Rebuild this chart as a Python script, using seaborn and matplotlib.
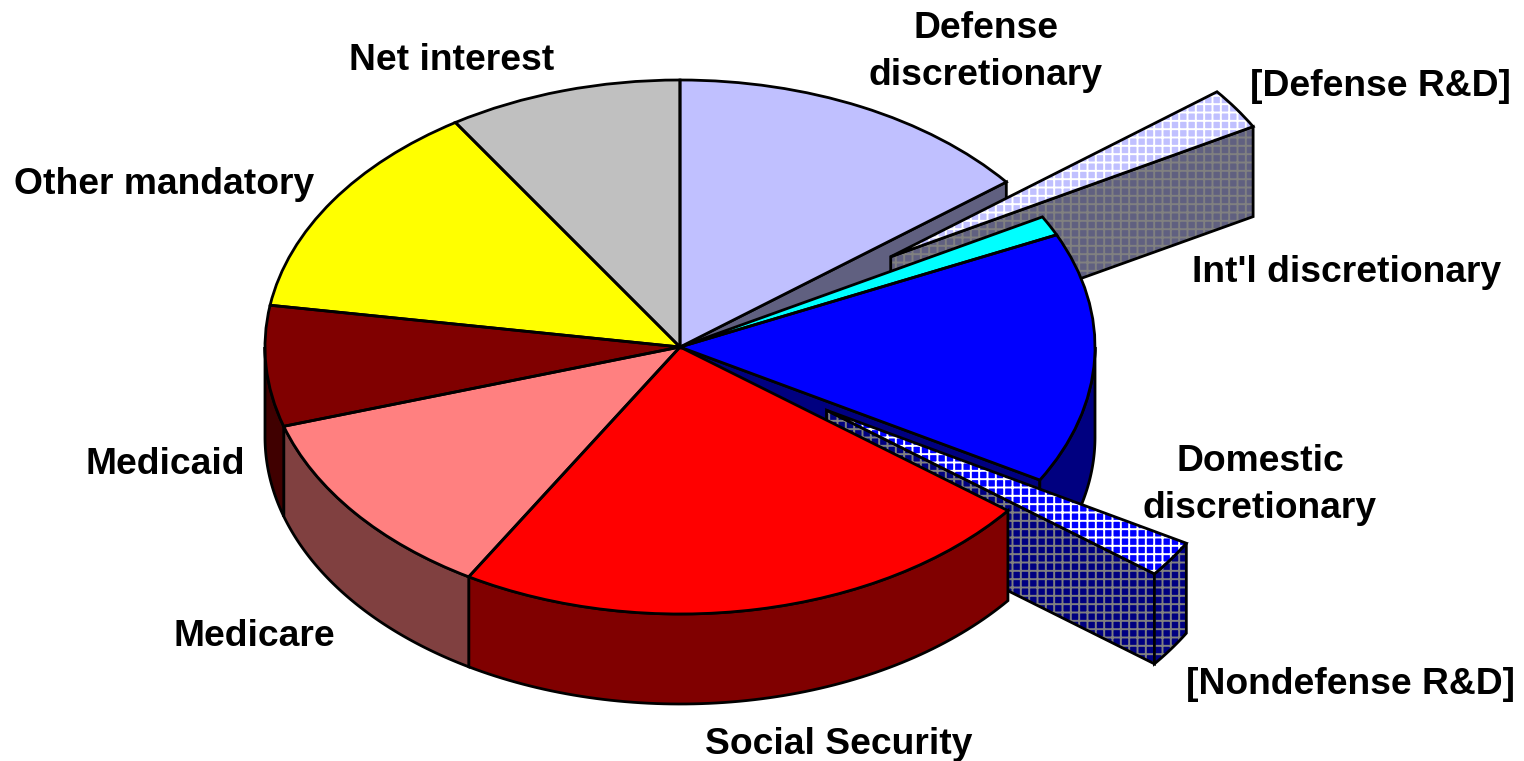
import numpy as np
import matplotlib
matplotlib.use('Agg')
import matplotlib.pyplot as plt
import seaborn as sns

# share of the budget, percent
labels = ['Defense discretionary', '[Defense R&D]', "Int'l discretionary", 'Domestic discretionary',
          '[Nondefense R&D]', 'Social Security', 'Medicare', 'Medicaid', 'Other mandatory', 'Net interest']
values = [14.4, 2.5, 1.2, 15.2, 2.2, 23.0, 11.7, 7.3, 13.4, 9.1]
explode = [0, 0.61, 0, 0, 0.425, 0, 0, 0, 0, 0]
top_colors = ['#C0C0FF', '#C0C0FF', '#00FFFF', '#0000FF', '#0000FF', '#FF0000', '#FF8080', '#800000', '#FFFF00', '#C0C0C0']
side_colors = ['#606080', '#606080', '#008080', '#000080', '#000080', '#800000', '#804040', '#400000', '#808000', '#606060']

sns.set_theme(style='white')
plt.rcParams['font.family'] = ['Liberation Sans', 'DejaVu Sans']
plt.rcParams['hatch.linewidth'] = 1.4

DPI = 100
W, H = 1524, 761
CX, CY, RX, RY = 680, 347, 415, 267
DEPTH = 90 / RY
LW = 2.0

fig = plt.figure(figsize=(W / DPI, H / DPI), dpi=DPI)
ax = fig.add_axes([0, 0, 1, 1])

palette = sns.color_palette(top_colors)

# top faces, fill first and then the outline on its own so hatches can stay white
fills, _ = ax.pie(values, explode=explode, colors=palette, startangle=90, counterclock=False,
                  radius=1, wedgeprops=dict(linewidth=0))
lines, _ = ax.pie(values, explode=explode, startangle=90, counterclock=False, radius=1,
                  wedgeprops=dict(fill=False, edgecolor='black', linewidth=LW))

ax.set_aspect('auto')
ax.set_xlim(-CX / RX, (W - CX) / RX)
ax.set_ylim((CY - H) / RY, CY / RY)
ax.axis('off')

# angle bounds, clockwise from the top of the pie
edges = np.cumsum([0] + values) / sum(values) * 2 * np.pi
mids = (edges[:-1] + edges[1:]) / 2


def wall(x, y, color, z, hatched=False):
    # x, y is the top edge, the wall hangs DEPTH below it
    xs = np.concatenate([x, x[::-1]])
    ys = np.concatenate([y, y[::-1] - DEPTH])
    if hatched:
        ax.fill(xs, ys, facecolor=color, edgecolor='#808080', hatch='++', linewidth=0, zorder=z)
    else:
        ax.fill(xs, ys, facecolor=color, linewidth=0, zorder=z)
    ax.fill(xs, ys, fill=False, edgecolor='black', linewidth=LW, zorder=z)


def radial_wall(i, t, z):
    ox = explode[i] * np.sin(mids[i])
    oy = explode[i] * np.cos(mids[i])
    wall(np.array([ox, ox + np.sin(t)]), np.array([oy, oy + np.cos(t)]), side_colors[i], z, explode[i] > 0)


def outer_wall(i, z):
    t0 = max(edges[i], np.pi / 2)
    t1 = min(edges[i + 1], 3 * np.pi / 2)
    if t1 <= t0:
        return
    t = np.linspace(t0, t1, 80)
    ox = explode[i] * np.sin(mids[i])
    oy = explode[i] * np.cos(mids[i])
    wall(ox + np.sin(t), oy + np.cos(t), side_colors[i], z, explode[i] > 0)


# painter's order, back to front
radial_wall(0, edges[1], 1)
radial_wall(1, edges[2], 2)
radial_wall(3, edges[4], 4)
outer_wall(3, 4)
radial_wall(4, edges[5], 5)
outer_wall(4, 5)
for i in [5, 6, 7]:
    outer_wall(i, 7)

for i, (f, l) in enumerate(zip(fills, lines)):
    z = 8
    if i == 1:
        z = 3
    if i == 4:
        z = 6
    if explode[i] > 0:
        f.set_edgecolor('white')
        f.set_hatch('++')
    f.set_zorder(z)
    l.set_zorder(z + 0.5)

# label placement in pixels of the image
label_text = ['Defense\ndiscretionary', '[Defense R&D]', "Int'l discretionary", 'Domestic\ndiscretionary',
              '[Nondefense R&D]', 'Social Security', 'Medicare', 'Medicaid', 'Other mandatory', 'Net interest']
label_x = [986, 1380, 1347, 1260, 1351, 839, 254, 165, 164, 452]
label_y = [52, 87, 272, 485, 685, 745, 637, 465, 185, 60]
for s, x, y in zip(label_text, label_x, label_y):
    fig.text(x / W, 1 - y / H, s, ha='center', va='center', fontsize=26.8, fontweight='bold',
             color='black', linespacing=1.44)

fig.savefig('out.png', dpi=DPI)
